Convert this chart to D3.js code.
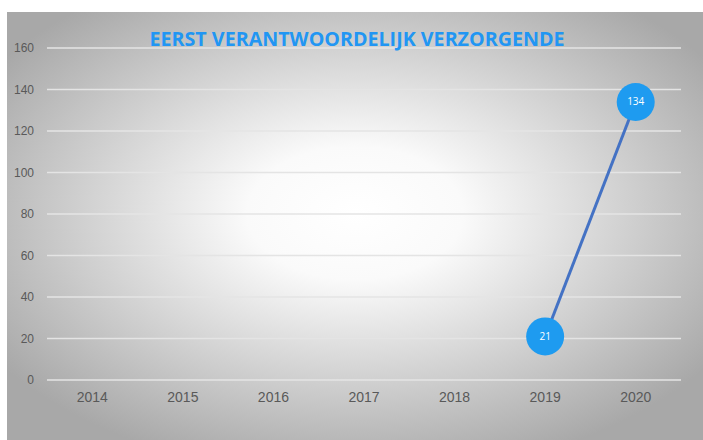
<!DOCTYPE html>
<html>
<head>
<meta charset="utf-8">
<script src="https://cdn.jsdelivr.net/npm/d3@7"></script>
<style>
  body { margin: 0; background: #fff; }
  svg { display: block; font-family: "Open Sans", sans-serif; }
</style>
</head>
<body>
<svg width="703" height="440"></svg>
<script>
(function(){
    'use strict';

    // data
    const years = ['2014', '2015', '2016', '2017', '2018', '2019', '2020'];
    const values = [null, null, null, null, null, 21, 134];
    const yTicks = [0, 20, 40, 60, 80, 100, 120, 140, 160];
    const title = 'EERST VERANTWOORDELIJK VERZORGENDE';

    const svg = d3.select('svg');
    const W = 703, H = 440;
    const margin = {top: 48, right: 22, bottom: 60, left: 47};

    // background with radial gradient
    const defs = svg.append('defs');
    const grad = defs.append('radialGradient')
        .attr('id', 'bg')
        .attr('cx', '50%').attr('cy', '47%')
        .attr('r', '62%');
    grad.append('stop').attr('offset', '0%').attr('stop-color', '#ffffff');
    grad.append('stop').attr('offset', '25%').attr('stop-color', '#fafafa');
    grad.append('stop').attr('offset', '100%').attr('stop-color', '#a8a8a8');

    svg.append('rect')
        .attr('x', 7).attr('y', 12)
        .attr('width', W - 7).attr('height', H - 12)
        .attr('fill', 'url(#bg)');

    const x = d3.scaleBand()
        .domain(years)
        .range([margin.left, W - margin.right]);

    const y = d3.scaleLinear()
        .domain([0, 160])
        .range([H - margin.bottom, margin.top]);

    // gridlines
    svg.append('g')
        .selectAll('line')
        .data(yTicks)
        .join('line')
        .attr('x1', margin.left)
        .attr('x2', W - margin.right)
        .attr('y1', d => y(d))
        .attr('y2', d => y(d))
        .attr('stroke', '#e4e4e4')
        .attr('stroke-width', 1.5);

    // y axis labels
    const yAxis = svg.append('g')
        .attr('transform', `translate(${margin.left - 13},0)`)
        .call(d3.axisLeft(y).tickValues(yTicks).tickSize(0).tickPadding(0));
    yAxis.select('.domain').remove();
    yAxis.selectAll('text')
        .attr('fill', '#595959')
        .style('font-size', '12px');

    // x axis labels
    const xAxis = svg.append('g')
        .attr('transform', `translate(0,${H - margin.bottom})`)
        .call(d3.axisBottom(x).tickSize(0).tickPadding(12));
    xAxis.select('.domain').remove();
    xAxis.selectAll('text')
        .attr('fill', '#595959')
        .style('font-size', '14px');

    // title
    svg.append('text')
        .attr('x', 357)
        .attr('y', 46)
        .attr('text-anchor', 'middle')
        .attr('fill', '#2196f3')
        .style('font-size', '19px')
        .style('font-weight', 'bold')
        .attr('textLength', 415)
        .attr('lengthAdjust', 'spacingAndGlyphs')
        .text(title);

    const pts = years.map((d, i) => ({year: d, value: values[i]}))
        .filter(d => d.value !== null);

    const line = d3.line()
        .x(d => x(d.year) + x.bandwidth() / 2)
        .y(d => y(d.value));

    svg.append('path')
        .datum(pts)
        .attr('d', line)
        .attr('fill', 'none')
        .attr('stroke', '#4472c4')
        .attr('stroke-width', 3);

    svg.selectAll('circle.pt')
        .data(pts)
        .join('circle')
        .attr('class', 'pt')
        .attr('cx', d => x(d.year) + x.bandwidth() / 2)
        .attr('cy', d => y(d.value))
        .attr('r', 19)
        .attr('fill', '#1e9bf0');

    svg.selectAll('text.lbl')
        .data(pts)
        .join('text')
        .attr('class', 'lbl')
        .attr('x', d => x(d.year) + x.bandwidth() / 2)
        .attr('y', d => y(d.value))
        .attr('dy', '0.35em')
        .attr('text-anchor', 'middle')
        .attr('fill', '#fff')
        .style('font-size', '10px')
        .text(d => d.value);
})();
</script>
</body>
</html>
